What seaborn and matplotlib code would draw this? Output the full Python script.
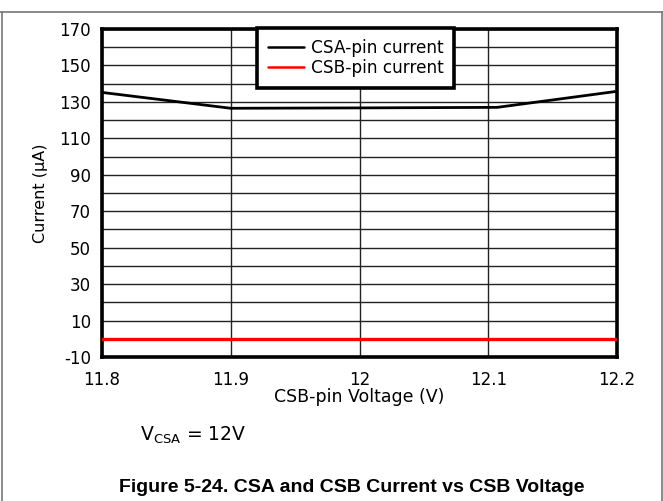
import matplotlib
matplotlib.use("Agg")
import matplotlib.pyplot as plt
from matplotlib.lines import Line2D
import seaborn as sns
import pandas as pd

# Data
voltage_csa = [11.8, 11.9, 12.0, 12.107, 12.2]
current_csa = [135.2, 126.5, 126.7, 127.0, 135.8]
voltage_csb = [11.8, 11.9, 12.0, 12.1, 12.2]
current_csb = [0.0, 0.0, 0.0, 0.0, 0.0]
series_names = ["CSA-pin current", "CSB-pin current"]
series_colors = ["#000000", "#ff0000"]
x_ticks = [11.8, 11.9, 12.0, 12.1, 12.2]
x_ticklabels = ["11.8", "11.9", "12", "12.1", "12.2"]
y_ticks = [-10, 10, 30, 50, 70, 90, 110, 130, 150, 170]
y_minor = [0, 20, 40, 60, 80, 100, 120, 140, 160]

df = pd.DataFrame({
    "V": voltage_csa + voltage_csb,
    "I": current_csa + current_csb,
    "series": [series_names[0]] * len(voltage_csa) + [series_names[1]] * len(voltage_csb),
})

sns.set_theme(style="white")
plt.rcParams['font.family'] = ['DejaVu Sans']
plt.rcParams['axes.unicode_minus'] = False
plt.rcParams['text.color'] = 'black'
plt.rcParams['axes.labelcolor'] = 'black'
plt.rcParams['xtick.color'] = 'black'
plt.rcParams['ytick.color'] = 'black'

fig = plt.figure(figsize=(6.63, 5.01), dpi=100)
ax = fig.add_axes([102/663, 1 - 357/501, (617-102)/663, (357-29)/501])

sns.lineplot(data=df, x="V", y="I", hue="series", palette=series_colors,
             ax=ax, legend=False, sort=False, estimator=None)
for ln, lw in zip(ax.lines, [2.0, 2.4]):
    ln.set_linewidth(lw)
    ln.set_zorder(3)

ax.set_xlim(11.8, 12.2)
ax.set_ylim(-10, 170)
ax.set_xticks(x_ticks)
ax.set_xticklabels(x_ticklabels)
ax.set_yticks(y_ticks)
ax.set_yticks(y_minor, minor=True)
ax.tick_params(axis='both', which='both', length=0, labelsize=12, colors='black')
ax.tick_params(axis='x', pad=10)
ax.tick_params(axis='y', pad=8)
ax.grid(True, which='both', color='#222222', linewidth=1.0)
ax.set_axisbelow(True)
for s in ax.spines.values():
    s.set_visible(True)
    s.set_color('black')
    s.set_linewidth(2.6)

ax.set_xlabel("CSB-pin Voltage (V)", fontsize=12.5, labelpad=-1)
ax.set_ylabel("Current (\u03bcA)", fontsize=11.5, labelpad=8)

handles = [Line2D([0], [0], color=c, lw=1.8) for c in series_colors]
leg = ax.legend(handles, series_names, loc='upper left', bbox_to_anchor=(0.301, 1.003),
                borderaxespad=0, fancybox=False, framealpha=1, fontsize=12.2,
                handlelength=2.15, handletextpad=0.42, labelspacing=0.15,
                borderpad=0.62)
leg.get_frame().set_edgecolor('black')
leg.get_frame().set_linewidth(2.6)

fig.text(140/663, 1 - 435/501, r"V$_{\mathregular{CSA}}$ = 12V", fontsize=13.5,
         ha='left', va='center')
fig.text(352/663, 1 - 487/501, "Figure 5-24. CSA and CSB Current vs CSB Voltage",
         fontsize=14, fontweight='bold', family=['Liberation Sans'],
         ha='center', va='center')

# page border lines
fig.add_artist(Line2D([0, 1], [1 - 12/501, 1 - 12/501], color='#777777', lw=1.2,
                      transform=fig.transFigure))
fig.add_artist(Line2D([1.5/663, 1.5/663], [0, 1 - 12/501], color='#777777', lw=1.2,
                      transform=fig.transFigure))
fig.add_artist(Line2D([661.5/663, 661.5/663], [0, 1 - 12/501], color='#777777', lw=1.2,
                      transform=fig.transFigure))

fig.savefig("out.png", dpi=100)
